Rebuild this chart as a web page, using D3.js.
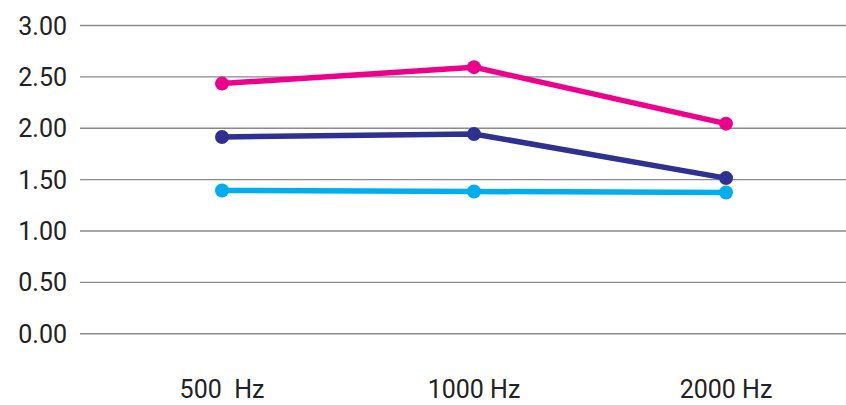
<!DOCTYPE html>
<html><head><meta charset="utf-8">
<script src="https://cdn.jsdelivr.net/npm/d3@7"></script>
<style>html,body{margin:0;padding:0;background:#fff;}svg{display:block;}</style>
</head><body>
<svg id="c" width="846" height="405"></svg>
<script>
const categories = ["500  Hz", "1000 Hz", "2000 Hz"];
const seriesMagenta = [2.43, 2.59, 2.04];
const seriesNavy = [1.91, 1.94, 1.51];
const seriesCyan = [1.39, 1.38, 1.37];
const yTicks = [0, 0.5, 1, 1.5, 2, 2.5, 3];

const series = [
  {name: "magenta", values: seriesMagenta, color: "#EC008C"},
  {name: "navy", values: seriesNavy, color: "#2E3192"},
  {name: "cyan", values: seriesCyan, color: "#00AEEF"}
];

const svg = d3.select("#c");
const x = d3.scaleBand().domain(categories).range([96, 852]);
const y = d3.scaleLinear().domain([0, 3]).range([333.3, 25]);

// gridlines + y labels
const yAxis = d3.axisLeft(y).tickValues(yTicks).tickFormat(d3.format(".2f"))
  .tickSize(-(846 - 80)).tickPadding(13);
const gy = svg.append("g").attr("transform", "translate(80,0)").call(yAxis);
gy.select(".domain").remove();
gy.selectAll(".tick line").attr("stroke", "#8a8a8a").attr("stroke-width", 1.4);
gy.selectAll(".tick text").attr("fill", "#222").style("font-family", "Roboto, sans-serif")
  .style("font-size", "25px").attr("dy", "0.36em");

// x labels
const xAxis = d3.axisBottom(x).tickSize(0).tickPadding(0);
const gx = svg.append("g").attr("transform", "translate(0,380)").call(xAxis);
gx.select(".domain").remove();
gx.selectAll(".tick text").attr("fill", "#222").style("font-family", "Roboto, sans-serif")
  .style("font-size", "25px").attr("dy", "0.72em").style("white-space", "pre").attr("xml:space", "preserve");

const line = d3.line().x((d, i) => x(categories[i]) + x.bandwidth() / 2).y(d => y(d));

series.forEach(s => {
  svg.append("path").datum(s.values).attr("d", line)
    .attr("fill", "none").attr("stroke", s.color).attr("stroke-width", 5.5)
    .attr("stroke-linejoin", "round");
  svg.selectAll(null).data(s.values).enter().append("circle")
    .attr("cx", (d, i) => x(categories[i]) + x.bandwidth() / 2)
    .attr("cy", d => y(d)).attr("r", 7).attr("fill", s.color);
});
</script>
</body></html>
